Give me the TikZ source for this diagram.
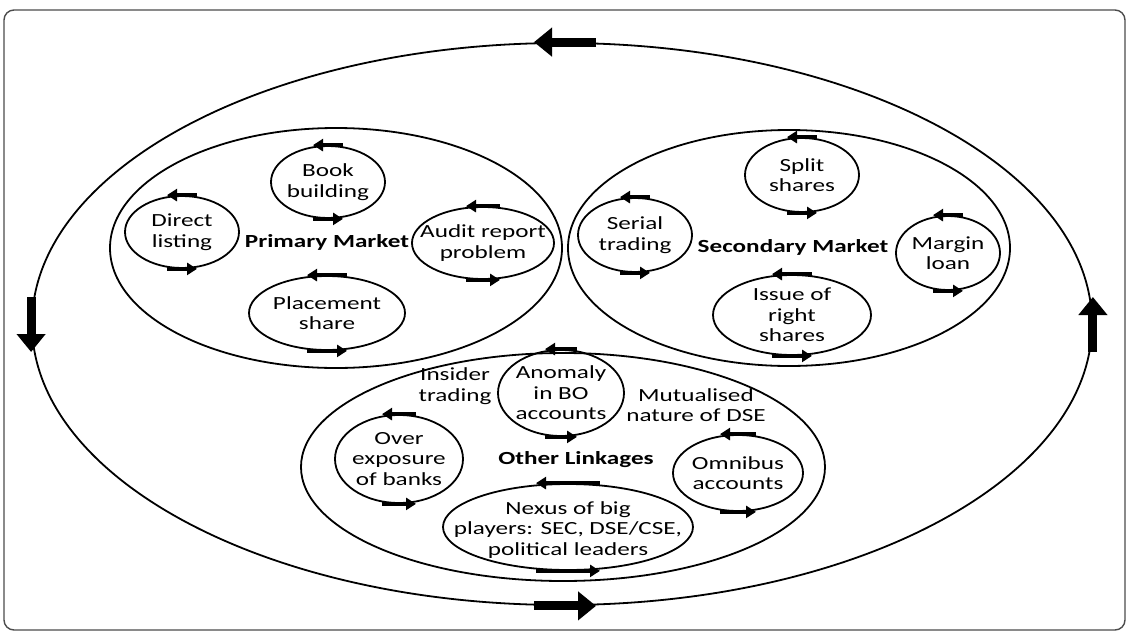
\documentclass[tikz,border=0pt]{standalone}
\usepackage{fontspec}
\setmainfont{Carlito}[FakeStretch=1.36]
\usepackage{tikz}
\usetikzlibrary{shapes.geometric}
\usetikzlibrary{arrows.meta}

\tikzset{
	ring/.style={draw, ellipse, line width=1.8pt, inner sep=0pt},
	txt/.style={align=center, inner sep=0pt, font=\fontsize{18.5}{20.5}\selectfont},
	hd/.style={txt, font=\fontsize{18.5}{20.5}\selectfont\bfseries},
	arr/.style={line width=3.6pt, -{Triangle[width=12pt,length=10pt]}},
	bigarr/.style={line width=9pt, -{Triangle[width=28pt,length=18pt]}},
}

\begin{document}
\begin{tikzpicture}[x=1pt,y=-1pt]

	\useasboundingbox (0,0) rectangle (1128,632);
	\draw[black!70, line width=1.4pt, rounded corners=10pt] (4,10) rectangle (1125,630);

	% outer cycle
	\node[ring, minimum width=1060, minimum height=562] (outer) at (562,324) {};
	\draw[bigarr] ([xshift=34]outer.north) -- ([xshift=-28]outer.north);
	\draw[bigarr] ([yshift=27]outer.west) -- ([yshift=-28]outer.west);
	\draw[bigarr] ([xshift=-28]outer.south) -- ([xshift=34]outer.south);
	\draw[bigarr] ([yshift=-28]outer.east) -- ([yshift=27]outer.east);

	% primary market
	\node[ring, minimum width=452, minimum height=240] (prim) at (336,248) {};
	\node[hd] (primt) at (327,242) {Primary Market};
	\node[ring, minimum width=114, minimum height=72] (book) at (328,182) {};
	\node[txt] (bookt) at (book) {Book\\building};
	\node[ring, minimum width=114, minimum height=72] (direct) at (182,232) {};
	\node[txt] (directt) at (direct) {Direct\\listing};
	\node[ring, minimum width=142, minimum height=72] (audit) at (483,243) {};
	\node[txt] (auditt) at (audit) {Audit report\\problem};
	\node[ring, minimum width=156, minimum height=74] (place) at (327,313) {};
	\node[txt] (placet) at (place) {Placement\\share};

	% secondary market
	\node[ring, minimum width=442, minimum height=236] (sec) at (789,248) {};
	\node[hd] (sect) at (793,247) {Secondary Market};
	\node[ring, minimum width=114, minimum height=74] (split) at (802,175) {};
	\node[txt] (splitt) at (split) {Split\\shares};
	\node[ring, minimum width=114, minimum height=74] (serial) at (635,235) {};
	\node[txt] (serialt) at (serial) {Serial\\trading};
	\node[ring, minimum width=104, minimum height=74] (margin) at (948,253) {};
	\node[txt] (margint) at (margin) {Margin\\loan};
	\node[ring, minimum width=158, minimum height=80] (issue) at (792,315) {};
	\node[txt] (issuet) at (issue) {Issue of\\right\\shares};

	% other linkages
	\node[ring, minimum width=524, minimum height=228] (oth) at (563,467) {};
	\node[hd] (otht) at (576,460) {Other Linkages};
	\node[txt] (insider) at (455,386) {Insider\\trading};
	\node[txt] (mutual) at (696,405) {Mutualised\\nature of DSE};
	\node[ring, minimum width=126, minimum height=86] (anom) at (561,393) {};
	\node[txt] (anomt) at (anom) {Anomaly\\in BO\\accounts};
	\node[ring, minimum width=128, minimum height=88] (over) at (399,459) {};
	\node[txt] (overt) at (over) {Over\\exposure\\of banks};
	\node[ring, minimum width=130, minimum height=76] (omni) at (738,473) {};
	\node[txt] (omnit) at (omni) {Omnibus\\accounts};
	\node[ring, minimum width=250, minimum height=86] (nexus) at (568,527) {};
	\node[txt] (nexust) at ([yshift=-3]nexus) {Nexus of big\\players: SEC, DSE/CSE,\\political leaders};

	% little arrows, top one goes left, bottom one goes right
	\foreach \n/\w in {book/15,direct/15,audit/17,place/20,split/15,serial/15,margin/15,issue/20,anom/16,over/17,omni/18,nexus/32}{
		\draw[arr] ([xshift=\w]\n.north) -- ([xshift=-\w]\n.north);
		\draw[arr] ([xshift=-\w]\n.south) -- ([xshift=\w]\n.south);
	}

\end{tikzpicture}
\end{document}
